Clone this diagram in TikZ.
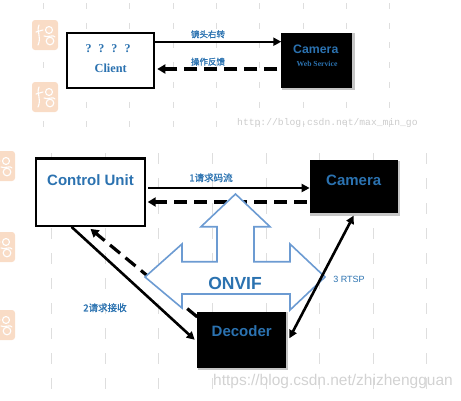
\documentclass[tikz,border=0pt]{standalone}
\usepackage{fontspec}
\setmainfont{Liberation Serif}
\setsansfont{Liberation Sans}
\newfontfamily\cjkb[FakeBold=1.2]{Noto Sans CJK SC}
\newfontfamily\monof{Liberation Mono}
\usetikzlibrary{arrows.meta,calc}
\definecolor{txtblue}{HTML}{2B72B0}
\definecolor{shapeblue}{HTML}{6C9BD2}
\definecolor{stamp}{HTML}{F9DCC6}
\definecolor{gridgray}{HTML}{DEDEDE}
\tikzset{
  whitebox/.style={draw=black, line width=2pt, fill=white, inner sep=0pt},
  blackbox/.style={draw=black, line width=0.8pt, fill=black, inner sep=0pt},
  shadowbox/.style={fill=gray!45, inner sep=0pt},
  boxlbl/.style={text=txtblue, font=\sffamily\bfseries, inner sep=0pt},
  seriflbl/.style={text=txtblue, font=\rmfamily\bfseries, inner sep=0pt},
  cnlbl/.style={text=txtblue, inner sep=0pt},
  solidarr/.style={draw=black, line width=2.4pt, -{Triangle[length=8pt,width=8pt]}},
  dasharr/.style={draw=black, line width=3.2pt, dash pattern=on 13pt off 7pt, -{Triangle[length=8pt,width=9pt]}},
  gridline/.style={draw=gridgray, line width=1pt},
  stampbox/.style={fill=stamp, rounded corners=3pt},
  stampline/.style={draw=white, line width=1.1pt, line cap=round},
  wmark/.style={inner sep=0pt, anchor=west},
  pics/sealmark/.style={code={
    \fill[stampbox] (0,0) rectangle (26,30);
    \draw[stampline] (7,5) .. controls (4,12) and (10,16) .. (6,25);
    \draw[stampline] (4,12) -- (11,10);
    \draw[stampline] (17,10) circle (3.5);
    \draw[stampline] (18,21) circle (3.8);
    \draw[stampline] (12,16) .. controls (15,18) and (22,14) .. (23,17);
  }}
}
\begin{document}
\begin{tikzpicture}[x=1pt,y=-1pt]
\useasboundingbox (0,0) rectangle (461,400);
% background grid dashes
\foreach \k in {0,...,8}{
  \draw[gridline, dash pattern=on 6pt off 13.7pt] (43+43.35*\k,3) -- (43+43.35*\k,132);
}
\foreach \k in {0,...,7}{
  \draw[gridline, dash pattern=on 11pt off 14pt] (51.7+53.6*\k,153) -- (51.7+53.6*\k,398);
}
% stamps
\pic at (32,20) {sealmark};
\pic at (32,82) {sealmark};
\pic at (-11,151) {sealmark};
\pic at (-11,232) {sealmark};
\pic at (-11,310) {sealmark};
% watermarks
\node[wmark, text=gray!40, font=\monof\fontsize{9.7}{11}\selectfont] (wm1) at (237,122.7) {http://blog.csdn.net/max\_min\_go};
\node[wmark, text=gray!35, font=\sffamily\fontsize{15.5}{17}\selectfont] (wm2) at (213,381) {https://blog.csdn.net/zhizhengguan};

% ---------- top diagram ----------
\node[whitebox, minimum width=87.6pt, minimum height=55.6pt] (client) at (110.5,60.5) {};
\node[shadowbox, minimum width=73pt, minimum height=57pt] (camtopsh) at (318.2,61.8) {};
\node[blackbox, minimum width=70pt, minimum height=54pt] (camtop) at (316.7,60.3) {};
\node[seriflbl, font=\rmfamily\bfseries\fontsize{12}{14}\selectfont] (qq) at (108,49) {?\hspace{7pt}?\hspace{7pt}?\hspace{7pt}?};
\node[seriflbl, font=\rmfamily\bfseries\fontsize{12.3}{14}\selectfont] (clienttxt) at (110.7,68) {Client};
\node[boxlbl, font=\sffamily\bfseries\fontsize{12.3}{14}\selectfont] (camtoptxt) at (315.8,49.3) {Camera};
\node[seriflbl, font=\rmfamily\bfseries\fontsize{7.7}{9}\selectfont] (websvc) at (317,64.3) {Web Service};

\draw[solidarr, line width=2pt] (client.east |- 0,41.7) -- (camtop.west |- 0,41.7);
\draw[dasharr, line width=3.6pt] ([xshift=-4pt]camtop.west |- 0,69) -- ([xshift=2pt]client.east |- 0,69);
\node[cnlbl, font=\cjkb\fontsize{8.5}{10}\selectfont] (l1) at (208,34.3) {镜头右转};
\node[cnlbl, font=\cjkb\fontsize{8.5}{10}\selectfont] (l2) at (208,61.7) {操作反馈};

% ---------- bottom diagram ----------
\node[whitebox, line width=2.4pt, minimum width=109pt, minimum height=67.4pt] (cu) at (90.5,192) {};
\node[shadowbox, minimum width=90.5pt, minimum height=55pt] (cambotsh) at (355.2,188.2) {};
\node[blackbox, minimum width=87.3pt, minimum height=52pt] (cambot) at (353.7,186.7) {};
\node[shadowbox, minimum width=90.5pt, minimum height=58pt] (decsh) at (242.8,341.3) {};
\node[blackbox, minimum width=87.3pt, minimum height=55pt] (dec) at (241.3,339.8) {};
\node[boxlbl, font=\sffamily\bfseries\fontsize{15}{17}\selectfont] (cutxt) at (90.5,180) {Control Unit};
\node[boxlbl, font=\sffamily\bfseries\fontsize{15}{17}\selectfont] (cambottxt) at (353.7,180) {Camera};
\node[boxlbl, font=\sffamily\bfseries\fontsize{15}{17}\selectfont] (dectxt) at (241.7,331) {Decoder};

% connectors under the ONVIF shape
\draw[solidarr, line width=2.6pt] ([xshift=2pt]cu.east |- 0,188) -- (cambot.west |- 0,188);
\draw[dasharr] ([xshift=-3pt]cambot.west |- 0,202) -- ([xshift=1.5pt]cu.east |- 0,202);
\draw[solidarr, line width=2.6pt] ($(cu.south west)!0.33!(cu.south east)$) -- ([xshift=-2.5pt]dec.west);
\draw[dasharr] ([yshift=-5pt]dec.north west) -- ([yshift=-2pt]cu.south);

% ONVIF three-headed arrow
\draw[draw=shapeblue, line width=1.6pt, fill=white, line join=miter]
  (235.5,194) -- (270,226.7) -- (254,226.7) -- (254,261.7) -- (290,261.7) -- (290,244)
  -- (325,277) -- (290,310) -- (290,294) -- (182,294) -- (182,308) -- (145,277)
  -- (182,244) -- (182,261.7) -- (217,261.7) -- (217,226.7) -- (201,226.7) -- cycle;
\node[boxlbl, font=\sffamily\bfseries\fontsize{17.5}{20}\selectfont] (onvif) at (235,283.3) {ONVIF};

% RTSP double arrow on top
\draw[draw=black, line width=2.6pt, {Triangle[length=8pt,width=8pt]}-{Triangle[length=8pt,width=8pt]}] ([xshift=4pt,yshift=1.5pt]dec.east) -- ([yshift=-2.5pt]cambot.south);

\node[cnlbl, font=\cjkb\fontsize{9.5}{11}\selectfont] (l3) at (211,177.7) {1请求码流};
\node[cnlbl, font=\cjkb\fontsize{9.5}{11}\selectfont] (l4) at (105,307.7) {2请求接收};
\node[cnlbl, font=\sffamily\fontsize{9}{11}\selectfont] (l5) at (349,279) {3 RTSP};
\end{tikzpicture}
\end{document}
